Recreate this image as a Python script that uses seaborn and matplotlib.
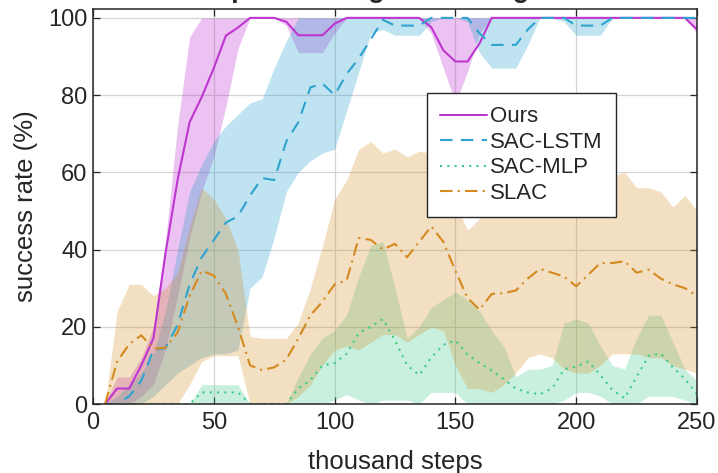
import numpy as np
import pandas as pd
import matplotlib
matplotlib.use("Agg")
import matplotlib.pyplot as plt
import seaborn as sns

# training progress, sampled every 5k steps
steps = [5, 10, 15, 20, 25, 30, 35, 40, 45, 50,
         55, 60, 65, 70, 75, 80, 85, 90, 95, 100,
         105, 110, 115, 120, 125, 130, 135, 140, 145, 150,
         155, 160, 165, 170, 175, 180, 185, 190, 195, 200,
         205, 210, 215, 220, 225, 230, 235, 240, 245, 250]

ours_mean = [0, 4, 4, 10, 17, 39, 58, 73, 79.5, 87,
             95.4, 97.5, 100, 100, 100, 99, 95.5, 95.5, 95.5, 98.5,
             100, 100, 100, 100, 100, 100, 100, 97.6, 91.6, 88.7,
             88.7, 93.4, 100, 100, 100, 100, 100, 100, 100, 100,
             100, 100, 100, 100, 100, 100, 100, 100, 100, 97]
ours_lo = [0, 0, 0, 2, 5, 14, 28, 43, 55, 64,
           77, 92, 100, 100, 100, 98, 91, 91, 91, 96,
           100, 100, 100, 100, 100, 100, 100, 96, 87, 78,
           86, 96, 100, 100, 100, 100, 100, 100, 100, 100,
           100, 100, 100, 100, 100, 100, 100, 100, 100, 96]
ours_hi = [0, 7, 7, 12, 20, 42, 72, 95, 100, 100,
           100, 100, 100, 100, 100, 100, 100, 100, 100, 100,
           100, 100, 100, 100, 100, 100, 100, 100, 100, 100,
           100, 100, 100, 100, 100, 100, 100, 100, 100, 100,
           100, 100, 100, 100, 100, 100, 100, 100, 100, 100]

lstm_mean = [0, 0, 2, 6, 14, 14.5, 20.5, 31, 38, 42.5,
             47, 48.6, 54, 58.5, 58, 68, 73, 82, 83, 80,
             85.5, 89.5, 94.5, 99.5, 98, 98, 98, 100, 100, 100,
             100, 96, 93, 93, 93, 97, 100, 100, 100, 98,
             98, 98, 100, 100, 100, 100, 100, 100, 100, 100]
lstm_lo = [0, 0, 0, 0, 2, 5, 8, 10, 12, 13,
           13, 14, 30, 33, 43, 55, 60, 63, 65, 66,
           76, 86, 96, 97, 95.5, 95.5, 95.5, 99, 100, 100,
           99, 91, 87, 87, 87, 93, 100, 100, 99, 95.5,
           95.5, 95.5, 100, 100, 100, 100, 100, 100, 100, 100]
lstm_hi = [0, 2, 5, 8, 13, 24, 40, 55, 62, 68,
           72, 75, 78, 79, 87, 94, 100, 100, 100, 100,
           100, 100, 100, 100, 100, 100, 100, 100, 100, 100,
           100, 100, 100, 100, 100, 100, 100, 100, 100, 100,
           100, 100, 100, 100, 100, 100, 100, 100, 100, 100]

mlp_mean = [0, 0, 0, 0, 0, 0, 0, 0, 3, 3,
            3, 3, 0, 0, 0, 0, 4, 6.2, 10, 10.6,
            13, 18.4, 20, 22, 16.5, 10, 7.5, 12, 15.3, 16.5,
            12.8, 10.6, 8.7, 6.5, 4, 3, 2.5, 4, 9, 9.7,
            11, 7.5, 3.6, 1.5, 7, 12.5, 13.1, 9.5, 6.5, 2.5]
mlp_lo = [0, 0, 0, 0, 0, 0, 0, 0, 0, 0,
          0, 0, 0, 0, 0, 0, 0, 0, 0, 1,
          2.5, 1, 0, 1, 1, 1, 0, 3, 3, 3,
          0, 0, 0, 0, 0, 0, 0, 0, 1, 3,
          3, 2, 0, 0, 0, 2, 2, 2, 1, 0]
mlp_hi = [0, 0, 0, 0, 0, 0, 0, 0, 5, 5,
          5, 5, 0, 0, 0, 0, 7, 13, 17, 19,
          23, 33, 41, 42, 30, 17, 20, 25, 27, 29,
          27, 24, 19, 15, 7, 9, 9, 10, 21, 22,
          21, 15, 10, 9, 17, 23, 23, 16, 9, 6]

slac_mean = [0, 11, 15.5, 17.8, 14.3, 14.6, 18.5, 28, 34.5, 33.3,
             28.5, 20, 10, 8.8, 9.5, 11.5, 17, 23, 26.5, 31,
             32, 43, 42.5, 40, 41.5, 38, 42, 46, 42, 34.5,
             27.5, 24.4, 28.5, 28.7, 29.4, 32.5, 35, 34, 33, 30.5,
             33.5, 36.5, 36.5, 37, 34, 34.8, 32.5, 31, 30, 28]
slac_lo = [0, 0, 0, 0, 0, 0, 0, 5, 11, 12.5,
           12.5, 12.5, 0, 0, 0, 0, 2, 5, 10, 14,
           15, 14, 16, 18, 18, 16, 18, 20, 19, 10,
           4, 4, 3, 5, 8, 12, 13, 12, 9, 8,
           8, 10, 13, 13, 13, 12, 12, 10, 9, 8]
slac_hi = [0, 24, 31, 31, 28, 30, 34, 46, 56, 53,
           48, 40, 17.5, 17, 17, 17, 21, 30, 41, 53,
           58, 66, 68, 65, 66, 64, 65.5, 65, 60, 52,
           45, 48, 53, 56, 58, 58, 60, 60, 58, 58,
           58, 58, 59, 60, 56, 56, 55, 51, 54, 50]

methods = ["Ours", "SAC-LSTM", "SAC-MLP", "SLAC"]
colors = {"Ours": "#BF35D1", "SAC-LSTM": "#2EA3CF",
          "SAC-MLP": "#3DCB8A", "SLAC": "#D48A1E"}
fill_alpha = {"Ours": 0.30, "SAC-LSTM": 0.30, "SAC-MLP": 0.28, "SLAC": 0.27}
dashes = {"Ours": "", "SAC-LSTM": (6, 4), "SAC-MLP": (1, 2.5),
          "SLAC": (6, 2.5, 1, 2.5)}

means = {"Ours": ours_mean, "SAC-LSTM": lstm_mean,
         "SAC-MLP": mlp_mean, "SLAC": slac_mean}
bands = {"Ours": (ours_lo, ours_hi), "SAC-LSTM": (lstm_lo, lstm_hi),
         "SAC-MLP": (mlp_lo, mlp_hi), "SLAC": (slac_lo, slac_hi)}

df = pd.concat([pd.DataFrame({"thousand steps": steps,
                              "success rate (%)": means[m],
                              "method": m}) for m in methods],
               ignore_index=True)

sns.set_theme(style="ticks")
plt.rcParams["font.family"] = ["Liberation Sans", "DejaVu Sans"]

fig = plt.figure(figsize=(7.18, 4.73), dpi=100)
ax = fig.add_axes([93 / 718, 69 / 473, 604 / 718, 395 / 473])

# shaded spread of each method
for m in methods:
    lo, hi = bands[m]
    ax.fill_between(steps, lo, hi, color=colors[m], alpha=fill_alpha[m],
                    linewidth=0)

sns.lineplot(data=df, x="thousand steps", y="success rate (%)",
             hue="method", style="method", hue_order=methods,
             style_order=methods, palette=colors, dashes=dashes,
             linewidth=1.5, legend=False, ax=ax)

ax.set_xlim(0, 250)
ax.set_ylim(0, 102.3)
ax.set_xticks([0, 50, 100, 150, 200, 250])
ax.set_yticks([0, 20, 40, 60, 80, 100])

ink = "#262626"
ax.grid(True, color="#d4d4d4", linewidth=0.9)
ax.set_axisbelow(True)
for s in ax.spines.values():
    s.set_visible(True)
    s.set_color(ink)
    s.set_linewidth(1.1)
ax.tick_params(direction="in", top=True, right=True, length=5, width=0.9,
               color=ink, labelcolor=ink, labelsize=17)
ax.tick_params(axis="x", pad=6)
ax.tick_params(axis="y", pad=4)
ax.set_xlabel("thousand steps", fontsize=18.5, color=ink, labelpad=11)
ax.set_ylabel("success rate (%)", fontsize=18.5, color=ink, labelpad=7)

handles = ax.get_lines()[:4]
leg = ax.legend(handles, methods, loc="upper left",
                bbox_to_anchor=(0.553, 0.787), borderaxespad=0,
                fontsize=16, frameon=True, fancybox=False, framealpha=1,
                edgecolor=ink, handlelength=2.1, handletextpad=0.15,
                labelspacing=0.2, borderpad=0.6)
leg.get_frame().set_linewidth(1.0)

# title sits above the top edge of the canvas, as in the panel export
fig.text(359 / 718, 1 + 3 / 473, "Sequential target reaching",
         ha="center", va="baseline", fontsize=19.5, fontweight="bold",
         color=ink)

fig.savefig("out.png", dpi=100)
